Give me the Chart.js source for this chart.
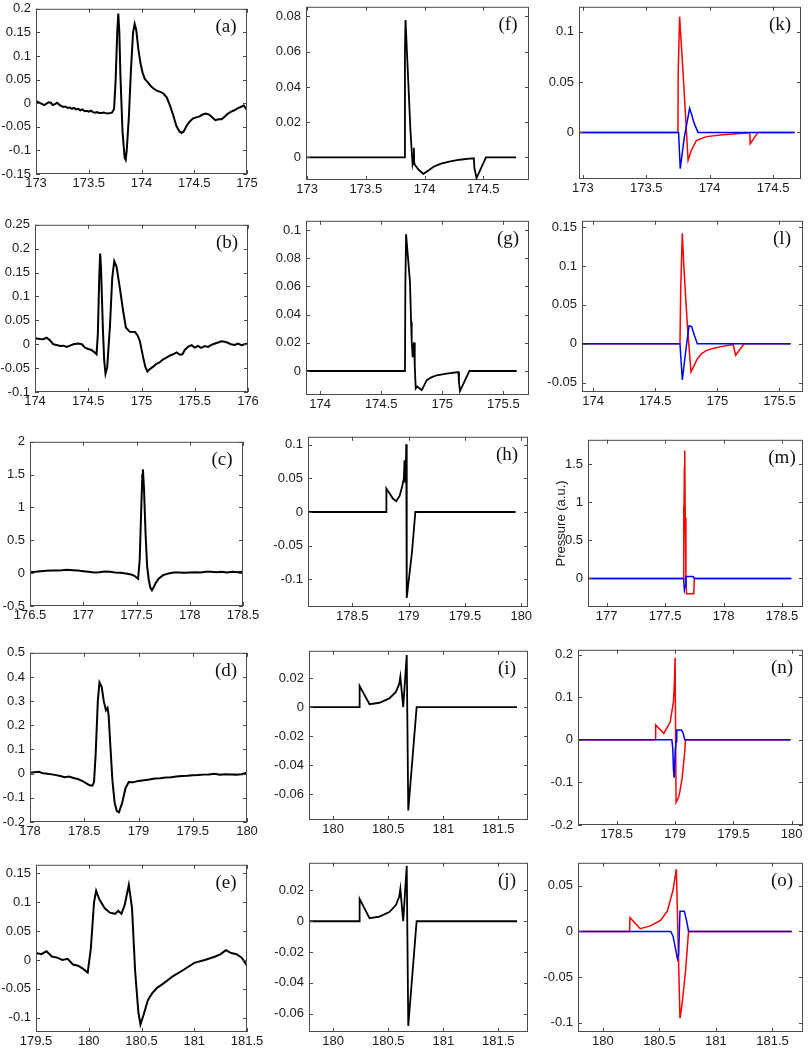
<!DOCTYPE html>
<html>
<head>
<meta charset="utf-8">
<script src="https://cdn.jsdelivr.net/npm/chart.js@4.4.0/dist/chart.umd.min.js"></script>
<style>
  html, body { margin: 0; padding: 0; background: #fff; }
  #fig { position: relative; width: 812px; height: 1054px; overflow: hidden; }
  #fig canvas { position: absolute; }
</style>
</head>
<body>
<div id="fig"></div>
<script>
// ---- measured traces (column 1) ----
const aX = [173.00,173.02,173.04,173.06,173.08,173.10,173.12,173.14,173.16,173.18,173.20,173.22,173.24,173.26,173.28,173.30,173.32,173.34,173.36,173.38,173.40,173.42,173.44,173.46,173.48,173.50,173.52,173.54,173.56,173.58,173.60,173.62,173.64,173.66,173.68,173.70,173.72,173.74,173.755,173.77,173.78,173.79,173.80,173.82,173.84,173.85,173.86,173.88,173.90,173.92,173.935,173.95,173.97,173.99,174.01,174.03,174.06,174.09,174.12,174.15,174.18,174.21,174.24,174.27,174.30,174.33,174.36,174.38,174.40,174.43,174.46,174.49,174.52,174.55,174.58,174.61,174.64,174.67,174.70,174.73,174.76,174.79,174.82,174.85,174.88,174.91,174.94,174.97,175.00];
const aY = [0.005,0.002,0.000,-0.002,-0.004,-0.001,0.002,0.001,-0.004,-0.002,0.001,-0.003,-0.006,-0.008,-0.007,-0.010,-0.009,-0.012,-0.010,-0.013,-0.012,-0.015,-0.013,-0.017,-0.016,-0.018,-0.016,-0.019,-0.020,-0.019,-0.021,-0.021,-0.020,-0.021,-0.022,-0.021,-0.020,-0.012,0.05,0.15,0.19,0.15,0.06,-0.06,-0.115,-0.12,-0.10,-0.03,0.07,0.15,0.168,0.155,0.115,0.085,0.065,0.052,0.044,0.036,0.030,0.026,0.024,0.020,0.012,-0.005,-0.025,-0.048,-0.060,-0.063,-0.060,-0.047,-0.038,-0.032,-0.030,-0.028,-0.024,-0.022,-0.024,-0.030,-0.036,-0.034,-0.034,-0.028,-0.022,-0.018,-0.015,-0.011,-0.008,-0.005,-0.014];

const bX = [174.0,174.047,174.078,174.109,174.14,174.172,174.203,174.234,174.266,174.297,174.328,174.36,174.406,174.44,174.47,174.5,174.53,174.56,174.578,174.59,174.603,174.612,174.62,174.637,174.65,174.662,174.678,174.703,174.725,174.744,174.766,174.797,174.828,174.853,174.89,174.94,174.962,174.984,175.016,175.037,175.056,175.078,175.11,175.14,175.17,175.2,175.234,175.266,175.297,175.33,175.36,175.384,175.406,175.44,175.47,175.5,175.53,175.56,175.594,175.625,175.656,175.69,175.72,175.75,175.78,175.81,175.84,175.875,175.906,175.94,175.97,176.0];
const bY = [0.0124,0.011,0.0104,0.0138,0.0083,0,-0.0014,-0.0035,-0.003,-0.0055,-0.003,0,0.0014,0,-0.007,-0.01,-0.012,-0.017,-0.021,0.021,0.138,0.19,0.159,0.035,-0.035,-0.062,-0.048,0.035,0.138,0.174,0.162,0.117,0.069,0.035,0.026,0.0255,0.019,0.007,-0.028,-0.048,-0.057,-0.052,-0.047,-0.041,-0.038,-0.032,-0.028,-0.024,-0.021,-0.017,-0.022,-0.021,-0.012,-0.005,-0.002,-0.007,-0.0035,-0.0076,-0.004,-0.0055,-0.0014,0.0014,0.0035,0.006,0.005,0.003,0,-0.0014,0.0014,-0.002,0,0.0014];

const cX = [176.5,176.55,176.6,176.65,176.7,176.75,176.8,176.85,176.9,176.95,177.0,177.05,177.1,177.15,177.2,177.25,177.3,177.35,177.4,177.45,177.48,177.5,177.515,177.53,177.545,177.555,177.56,177.57,177.585,177.6,177.615,177.63,177.645,177.66,177.68,177.71,177.75,177.8,177.85,177.9,177.95,178.0,178.05,178.1,178.15,178.2,178.25,178.3,178.35,178.4,178.45,178.5];
const cY = [0.015,0.02,0.03,0.035,0.04,0.042,0.045,0.05,0.045,0.04,0.03,0.02,0.01,0.015,0.025,0.02,0.01,0.005,-0.005,-0.02,-0.04,-0.065,-0.085,0.2,1.0,1.5,1.58,1.3,0.6,0.1,-0.1,-0.22,-0.26,-0.22,-0.15,-0.08,-0.03,-0.005,0.01,0.01,0.005,0.01,0.015,0.01,0.02,0.02,0.015,0.02,0.01,0.02,0.015,0.02];

const dX = [178.0,178.04,178.08,178.12,178.16,178.2,178.24,178.28,178.32,178.36,178.4,178.44,178.48,178.52,178.55,178.575,178.59,178.605,178.625,178.64,178.66,178.68,178.70,178.715,178.725,178.74,178.76,178.78,178.8,178.82,178.85,178.88,178.91,178.95,179.0,179.05,179.1,179.15,179.2,179.25,179.3,179.35,179.4,179.45,179.5,179.55,179.6,179.65,179.7,179.75,179.8,179.85,179.9,179.95,180.0];
const dY = [0.004,0.006,0.008,0.002,0.0,-0.003,-0.006,-0.01,-0.015,-0.012,-0.018,-0.022,-0.03,-0.04,-0.048,-0.05,-0.035,0.08,0.3,0.378,0.36,0.3,0.262,0.272,0.24,0.12,-0.03,-0.12,-0.155,-0.16,-0.12,-0.06,-0.035,-0.036,-0.03,-0.027,-0.024,-0.02,-0.019,-0.016,-0.015,-0.012,-0.01,-0.009,-0.007,-0.006,-0.004,-0.003,0.0,-0.004,-0.002,-0.003,-0.004,-0.002,0.004];

const eX = [179.5,179.55,179.6,179.65,179.7,179.75,179.8,179.85,179.9,179.95,179.99,180.02,180.05,180.07,180.1,180.15,180.2,180.25,180.28,180.31,180.34,180.38,180.41,180.44,180.47,180.49,180.52,180.56,180.6,180.65,180.7,180.8,180.9,181.0,181.1,181.2,181.25,181.3,181.35,181.4,181.45,181.5];
const eY = [0.012,0.010,0.015,0.006,0.004,0.0,0.002,-0.008,-0.010,-0.016,-0.022,0.02,0.1,0.12,0.105,0.09,0.082,0.08,0.085,0.08,0.095,0.13,0.09,-0.02,-0.09,-0.112,-0.095,-0.07,-0.058,-0.048,-0.042,-0.028,-0.017,-0.005,0.0,0.006,0.01,0.017,0.012,0.01,0.004,-0.01];

// ---- model traces (column 2) ----
const fX = [172.99,173.83,173.833,173.838,173.86,173.88,173.898,173.905,173.909,173.912,173.915,173.95,173.99,174.03,174.08,174.14,174.22,174.3,174.38,174.42,174.425,174.443,174.523,174.78];
const fY = [0,0,0.06,0.078,0.045,0.015,-0.004,-0.002,0.0055,-0.003,-0.004,-0.007,-0.0093,-0.0075,-0.0052,-0.0035,-0.0022,-0.0013,-0.0007,-0.0005,-0.006,-0.0117,0,0];

const gX = [173.885,174.695,174.698,174.704,174.72,174.736,174.745,174.75,174.758,174.769,174.775,174.783,174.795,174.804,174.832,174.85,174.873,174.91,174.955,175.036,175.132,175.137,175.145,175.222,175.609];
const gY = [0,0,0.06,0.097,0.08,0.063,0.035,0.0214,0.0098,0.0203,0.004,-0.0124,-0.011,-0.0117,-0.0135,-0.0105,-0.0065,-0.0045,-0.003,-0.0019,-0.0007,-0.008,-0.0142,0,0];

const hX = [178.107,178.80,178.803,178.83,178.86,178.89,178.92,178.94,178.958,178.964,178.97,178.975,178.979,178.982,178.985,179.03,179.06,179.95];
const hY = [0,0,0.035,0.028,0.02,0.016,0.024,0.036,0.05,0.077,0.045,0.06,0.101,0.0,-0.128,-0.06,0,0];

const iX = [179.78,180.236,180.24,180.33,180.42,180.51,180.57,180.6,180.61,180.636,180.668,180.682,180.758,181.67];
const iY = [0,0,0.0145,0.002,0.003,0.006,0.0105,0.016,0.021,0,0.036,-0.0714,0,0];

const jX = [179.78,180.236,180.24,180.33,180.42,180.51,180.57,180.6,180.61,180.636,180.668,180.682,180.758,181.67];
const jY = [0,0,0.0145,0.002,0.003,0.006,0.0105,0.016,0.021,0,0.036,-0.068,0,0];

// ---- model traces (column 3), red and blue ----
const kRX = [172.97,173.75,173.752,173.763,173.79,173.83,173.855,173.895,173.974,174.105,174.237,174.316,174.318,174.32,174.38,174.67];
const kRY = [0,0,0.06,0.115,0.06,-0.0277,-0.018,-0.0081,-0.0042,-0.0023,-0.001,-0.0003,-0.006,-0.0114,0,0];
const kBX = [172.97,173.755,173.768,173.80,173.842,173.86,173.875,173.908,174.67];
const kBY = [0,0,-0.036,-0.005,0.024,0.017,0.01,0,0];

const lRX = [173.91,174.699,174.705,174.718,174.73,174.76,174.788,174.81,174.833,174.87,174.914,174.97,175.022,175.08,175.129,175.137,175.148,175.215,175.59];
const lRY = [0,0,0.07,0.142,0.1,0.02,-0.036,-0.029,-0.021,-0.013,-0.0085,-0.0058,-0.004,-0.0022,-0.001,-0.008,-0.0148,0,0];
const lBX = [173.91,174.699,174.718,174.745,174.772,174.793,174.815,174.839,175.591];
const lBY = [0,0,-0.0465,-0.01,0.0232,0.022,0.011,0,0];

const mRX = [176.84,177.655,177.658,177.661,177.665,177.668,177.672,177.678,177.683,177.745,177.75,178.58];
const mRY = [0,0,0.95,0.5,1.45,1.68,0.8,0.02,-0.2,-0.2,0,0];
const mBX = [176.84,177.658,177.665,177.672,177.678,177.737,177.745,177.75,178.58];
const mBY = [0,0,-0.15,-0.1,0.025,0.025,0.015,0,0];

const nRX = [178.167,178.828,178.833,178.903,178.958,178.986,178.994,179.0,179.008,179.03,179.042,179.06,179.069,179.083,179.089,179.99];
const nRY = [0,0,0.035,0.015,0.042,0.09,0.135,0.193,-0.147,-0.135,-0.12,-0.09,-0.066,-0.027,0,0];
const nBX = [178.167,178.972,178.98,178.986,178.992,179.0,179.008,179.014,179.056,179.07,179.083,179.99];
const nBY = [0,0,-0.02,-0.07,-0.089,-0.03,-0.004,0.023,0.023,0.015,0,0];

const oRX = [179.78,180.236,180.24,180.33,180.42,180.51,180.57,180.62,180.65,180.682,180.7,180.73,180.758,181.67];
const oRY = [0,0,0.015,0.003,0.006,0.012,0.022,0.045,0.068,-0.095,-0.08,-0.045,0,0];
const oBX = [179.78,180.6,180.62,180.66,180.67,180.682,180.72,180.74,180.758,181.67];
const oBY = [0,0,-0.005,-0.03,-0.025,0.022,0.022,0.012,0,0];

// ---- axis limits and ticks ----
const aXLim = [173, 175], aYLim = [-0.15, 0.2];
const aXTicks = [173, 173.5, 174, 174.5, 175], aYTicks = [-0.15, -0.1, -0.05, 0, 0.05, 0.1, 0.15, 0.2];
const bXLim = [174, 176], bYLim = [-0.1, 0.25];
const bXTicks = [174, 174.5, 175, 175.5, 176], bYTicks = [-0.1, -0.05, 0, 0.05, 0.1, 0.15, 0.2, 0.25];
const cXLim = [176.5, 178.5], cYLim = [-0.5, 2];
const cXTicks = [176.5, 177, 177.5, 178, 178.5], cYTicks = [-0.5, 0, 0.5, 1, 1.5, 2];
const dXLim = [178, 180], dYLim = [-0.2, 0.5];
const dXTicks = [178, 178.5, 179, 179.5, 180], dYTicks = [-0.2, -0.1, 0, 0.1, 0.2, 0.3, 0.4, 0.5];
const eXLim = [179.5, 181.5], eYLim = [-0.125, 0.165];
const eXTicks = [179.5, 180, 180.5, 181, 181.5], eYTicks = [-0.1, -0.05, 0, 0.05, 0.1, 0.15];

const fXLim = [172.99, 174.89], fYLim = [-0.0128, 0.0855];
const fXTicks = [173, 173.5, 174, 174.5], fYTicks = [0, 0.02, 0.04, 0.06, 0.08];
const gXLim = [173.885, 175.71], gYLim = [-0.017, 0.1065];
const gXTicks = [174, 174.5, 175, 175.5], gYTicks = [0, 0.02, 0.04, 0.06, 0.08, 0.1];
const hXLim = [178.107, 180.06], hYLim = [-0.1415, 0.112];
const hXTicks = [178.5, 179, 179.5, 180], hYTicks = [-0.1, -0.05, 0, 0.05, 0.1];
const iXLim = [179.78, 181.77], iYLim = [-0.078, 0.0389];
const iXTicks = [180, 180.5, 181, 181.5], iYTicks = [-0.06, -0.04, -0.02, 0, 0.02];
const jXLim = [179.78, 181.77], jYLim = [-0.072, 0.038];
const jXTicks = [180, 180.5, 181, 181.5], jYTicks = [-0.06, -0.04, -0.02, 0, 0.02];

const kXLim = [172.97, 174.72], kYLim = [-0.0463, 0.1248];
const kXTicks = [173, 173.5, 174, 174.5], kYTicks = [0, 0.05, 0.1];
const lXLim = [173.91, 175.69], lYLim = [-0.062, 0.158];
const lXTicks = [174, 174.5, 175, 175.5], lYTicks = [-0.05, 0, 0.05, 0.1, 0.15];
const mXLim = [176.84, 178.68], mYLim = [-0.375, 1.822];
const mXTicks = [177, 177.5, 178, 178.5], mYTicks = [0, 0.5, 1, 1.5];
const nXLim = [178.167, 180.097], nYLim = [-0.2, 0.2116];
const nXTicks = [178.5, 179, 179.5, 180], nYTicks = [-0.2, -0.1, 0, 0.1, 0.2];
const oXLim = [179.78, 181.77], oYLim = [-0.11, 0.075];
const oXTicks = [180, 180.5, 181, 181.5], oYTicks = [-0.1, -0.05, 0, 0.05];

const RED = '#ff0000', BLUE = '#0000ff', BLACK = '#000000';

// panel layout: box = [left, top, right, bottom] of the plot frame in page pixels
const panels = [
  { label: '(a)', box: [36, 6, 247, 174], xLim: aXLim, yLim: aYLim, xTicks: aXTicks, yTicks: aYTicks, series: [[aX, aY, BLACK, 2]] },
  { label: '(b)', box: [35, 222, 248, 392], xLim: bXLim, yLim: bYLim, xTicks: bXTicks, yTicks: bYTicks, series: [[bX, bY, BLACK, 2]] },
  { label: '(c)', box: [30, 439, 243, 606], xLim: cXLim, yLim: cYLim, xTicks: cXTicks, yTicks: cYTicks, series: [[cX, cY, BLACK, 2]] },
  { label: '(d)', box: [30, 650, 247, 822], xLim: dXLim, yLim: dYLim, xTicks: dXTicks, yTicks: dYTicks, series: [[dX, dY, BLACK, 2]] },
  { label: '(e)', box: [36, 862, 247, 1032], xLim: eXLim, yLim: eYLim, xTicks: eXTicks, yTicks: eYTicks, series: [[eX, eY, BLACK, 2]] },
  { label: '(f)', box: [306, 4, 529, 180], xLim: fXLim, yLim: fYLim, xTicks: fXTicks, yTicks: fYTicks, series: [[fX, fY, BLACK, 1.8]] },
  { label: '(g)', box: [306, 218, 529, 395], xLim: gXLim, yLim: gYLim, xTicks: gXTicks, yTicks: gYTicks, series: [[gX, gY, BLACK, 1.8]] },
  { label: '(h)', box: [308, 434, 528, 607], xLim: hXLim, yLim: hYLim, xTicks: hXTicks, yTicks: hYTicks, series: [[hX, hY, BLACK, 1.8]] },
  { label: '(i)', box: [309, 648, 528, 820], xLim: iXLim, yLim: iYLim, xTicks: iXTicks, yTicks: iYTicks, series: [[iX, iY, BLACK, 1.8]] },
  { label: '(j)', box: [309, 860, 528, 1032], xLim: jXLim, yLim: jYLim, xTicks: jXTicks, yTicks: jYTicks, series: [[jX, jY, BLACK, 1.8]] },
  { label: '(k)', box: [579, 4, 801, 179], xLim: kXLim, yLim: kYLim, xTicks: kXTicks, yTicks: kYTicks, series: [[kRX, kRY, RED, 1.5], [kBX, kBY, BLUE, 1.5]] },
  { label: '(l)', box: [582, 218, 803, 392], xLim: lXLim, yLim: lYLim, xTicks: lXTicks, yTicks: lYTicks, series: [[lRX, lRY, RED, 1.5], [lBX, lBY, BLUE, 1.5]] },
  { label: '(m)', box: [588, 437, 803, 607], xLim: mXLim, yLim: mYLim, xTicks: mXTicks, yTicks: mYTicks, series: [[mRX, mRY, RED, 1.5], [mBX, mBY, BLUE, 1.5]], yTitle: 'Pressure (a.u.)', yw: 34 },
  { label: '(n)', box: [578, 647, 803, 825], xLim: nXLim, yLim: nYLim, xTicks: nXTicks, yTicks: nYTicks, series: [[nRX, nRY, RED, 1.5], [nBX, nBY, BLUE, 1.5]] },
  { label: '(o)', box: [578, 860, 803, 1032], xLim: oXLim, yLim: oYLim, xTicks: oXTicks, yTicks: oYTicks, series: [[oRX, oRY, RED, 1.5], [oBX, oBY, BLUE, 1.5]] }
];

Chart.defaults.font.family = '"Liberation Sans", Arial, sans-serif';

function fmt(v) {
  return String(Math.round(v * 1e6) / 1e6);
}

// matlab style frame with inward ticks on all four sides + panel letter
const frame = {
  id: 'frame',
  afterDraw(chart, args, opts) {
    const { ctx, chartArea: a, scales: { x, y } } = chart;
    ctx.save();
    ctx.strokeStyle = '#4a4a4a';
    ctx.lineWidth = 1;
    ctx.strokeRect(a.left + 0.5, a.top + 0.5, a.right - a.left - 1, a.bottom - a.top - 1);
    ctx.beginPath();
    x.ticks.forEach(t => {
      const px = Math.round(x.getPixelForValue(t.value)) + 0.5;
      ctx.moveTo(px, a.bottom); ctx.lineTo(px, a.bottom - 4);
      ctx.moveTo(px, a.top); ctx.lineTo(px, a.top + 4);
    });
    y.ticks.forEach(t => {
      const py = Math.round(y.getPixelForValue(t.value)) + 0.5;
      ctx.moveTo(a.left, py); ctx.lineTo(a.left + 4, py);
      ctx.moveTo(a.right, py); ctx.lineTo(a.right - 4, py);
    });
    ctx.stroke();
    ctx.fillStyle = '#111';
    ctx.font = '19px "Liberation Serif", "Times New Roman", serif';
    ctx.textAlign = 'center';
    ctx.textBaseline = 'middle';
    ctx.fillText(opts.text, a.right - 21, a.top + 18);
    ctx.restore();
  }
};

const fig = document.getElementById('fig');

function makePanel(p) {
  const yw = p.yw || 50, padT = 10, padR = 22, xh = 22;
  const [l, t, r, b] = p.box;
  const cv = document.createElement('canvas');
  cv.width = (r - l) + yw + padR;
  cv.height = (b - t) + padT + xh;
  cv.style.left = (l - yw) + 'px';
  cv.style.top = (t - padT) + 'px';
  fig.appendChild(cv);

  const tickFont = { family: '"Liberation Sans", Arial, sans-serif', size: 13 };

  new Chart(cv.getContext('2d'), {
    type: 'line',
    data: {
      datasets: p.series.map((s, i) => ({
        data: s[0].map((v, k) => ({ x: v, y: s[1][k] })),
        borderColor: s[2],
        borderWidth: s[3],
        pointRadius: 0,
        tension: 0,
        fill: false,
        order: p.series.length - i
      }))
    },
    options: {
      responsive: false,
      animation: false,
      events: [],
      layout: { padding: { left: 0, top: padT, right: padR, bottom: 0 } },
      plugins: {
        legend: { display: false },
        tooltip: { enabled: false },
        frame: { text: p.label }
      },
      scales: {
        x: {
          type: 'linear',
          min: p.xLim[0],
          max: p.xLim[1],
          afterBuildTicks: s => { s.ticks = p.xTicks.map(v => ({ value: v })); },
          afterFit: s => { s.height = xh; },
          grid: { display: false, drawTicks: false },
          border: { display: false },
          ticks: { padding: 2, color: '#1a1a1a', font: tickFont, maxRotation: 0, autoSkip: false, callback: v => fmt(v) }
        },
        y: {
          type: 'linear',
          min: p.yLim[0],
          max: p.yLim[1],
          afterBuildTicks: s => { s.ticks = p.yTicks.map(v => ({ value: v })); },
          afterFit: s => { s.width = yw; },
          grid: { display: false, drawTicks: false },
          border: { display: false },
          title: { display: !!p.yTitle, text: p.yTitle || '', color: '#1a1a1a', font: tickFont, padding: { top: 0, bottom: 0 } },
          ticks: { padding: 5, color: '#1a1a1a', font: tickFont, autoSkip: false, callback: v => fmt(v) }
        }
      }
    },
    plugins: [frame]
  });
}

panels.forEach(makePanel);
</script>
</body>
</html>
